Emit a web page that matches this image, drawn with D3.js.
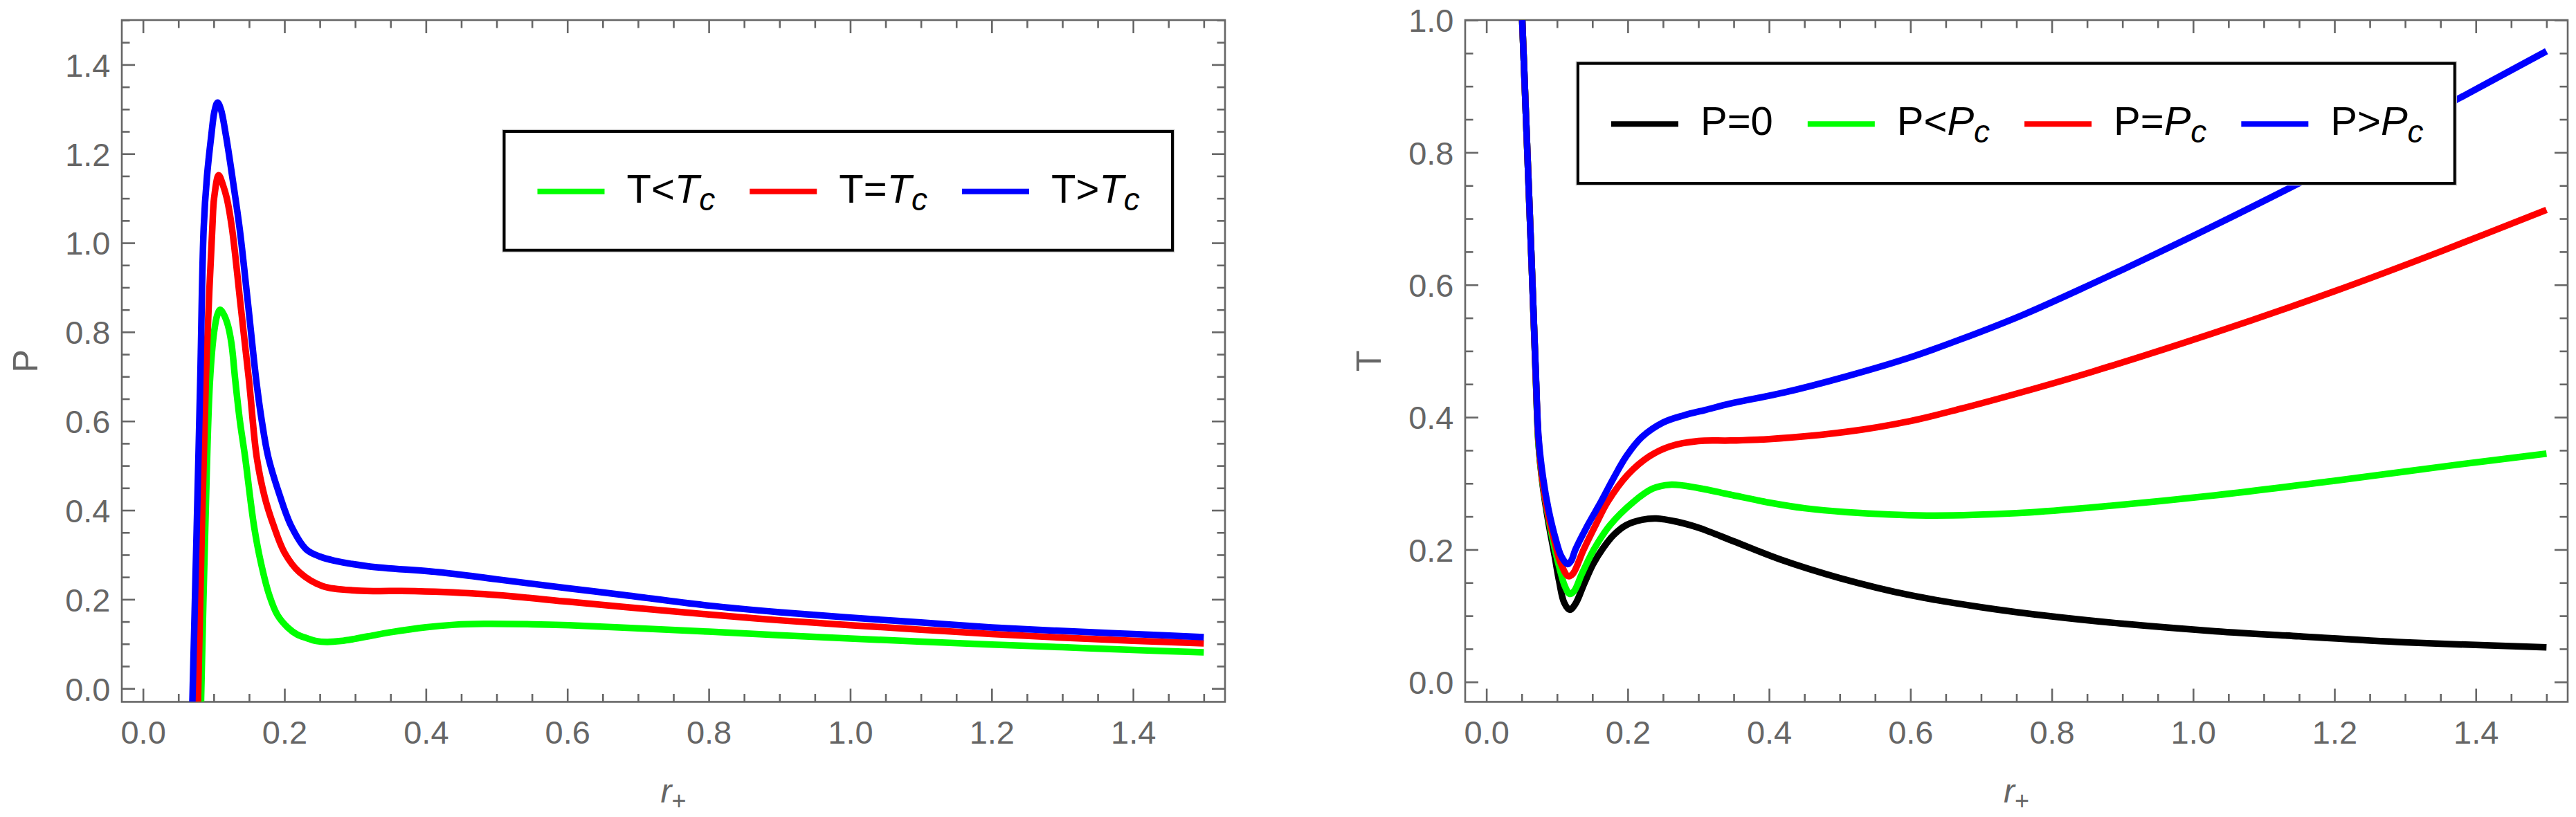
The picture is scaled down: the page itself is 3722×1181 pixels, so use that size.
<!DOCTYPE html>
<html>
<head>
<meta charset="utf-8">
<script src="https://cdn.jsdelivr.net/npm/d3@7"></script>
<style>
  body { margin: 0; background: #fff; }
  svg { display: block; }
</style>
</head>
<body>
<svg id="chart" width="3722" height="1181"></svg>
<script>
// ---- tick values ----
var xTicks = [0, 0.2, 0.4, 0.6, 0.8, 1.0, 1.2, 1.4];
var pTicks = [0, 0.2, 0.4, 0.6, 0.8, 1.0, 1.2, 1.4];
var tTicks = [0, 0.2, 0.4, 0.6, 0.8, 1.0];

// ---- left panel: P vs r+ ----
var rPLow  = [0.082, 0.088, 0.0946, 0.1005, 0.105, 0.109, 0.114, 0.120, 0.125, 0.1306, 0.137, 0.1443, 0.157, 0.167, 0.1786, 0.190, 0.2048, 0.218, 0.2309, 0.245, 0.260, 0.280, 0.300, 0.330, 0.352, 0.400, 0.440, 0.4825, 0.550, 0.602, 0.679, 0.80, 0.90, 1.00, 1.10, 1.20, 1.30, 1.40, 1.50];
var pLow   = [-0.03, 0.36, 0.689, 0.800, 0.838, 0.850, 0.840, 0.815, 0.775, 0.689, 0.600, 0.520, 0.364, 0.280, 0.209, 0.165, 0.1365, 0.121, 0.1132, 0.1065, 0.1044, 0.1065, 0.1115, 0.1205, 0.1267, 0.1373, 0.1429, 0.1450, 0.1440, 0.1418, 0.1365, 0.1275, 0.1195, 0.1120, 0.1050, 0.0985, 0.0925, 0.0865, 0.0810];

var rPCrit = [0.0777, 0.0888, 0.098, 0.1005, 0.107, 0.113, 0.1185, 0.1257, 0.138, 0.150, 0.1607, 0.172, 0.185, 0.200, 0.221, 0.2538, 0.3028, 0.3845, 0.4825, 0.602, 0.679, 0.80, 0.90, 1.00, 1.10, 1.20, 1.30, 1.40, 1.50];
var pCrit  = [-0.03, 0.689, 1.034, 1.100, 1.152, 1.130, 1.100, 1.034, 0.860, 0.689, 0.520, 0.430, 0.364, 0.305, 0.261, 0.2297, 0.2197, 0.2184, 0.2117, 0.1946, 0.183, 0.166, 0.153, 0.142, 0.132, 0.122, 0.114, 0.107, 0.1013];

var rPHigh = [0.0698, 0.075, 0.0809, 0.0858, 0.0905, 0.0966, 0.101, 0.1054, 0.110, 0.1172, 0.127, 0.1368, 0.148, 0.1603, 0.168, 0.177, 0.193, 0.2097, 0.2309, 0.250, 0.270, 0.319, 0.417, 0.500, 0.602, 0.679, 0.80, 0.90, 1.00, 1.10, 1.20, 1.30, 1.40, 1.50];
var pHigh  = [-0.03, 0.30, 0.689, 1.034, 1.150, 1.2415, 1.295, 1.315, 1.300, 1.2415, 1.140, 1.030, 0.870, 0.689, 0.600, 0.520, 0.435, 0.364, 0.312, 0.296, 0.287, 0.274, 0.261, 0.245, 0.2247, 0.210, 0.186, 0.171, 0.159, 0.148, 0.137, 0.129, 0.122, 0.1153];

// ---- right panel: T vs r+ ----
var rTZero = [0.0507, 0.058, 0.0645, 0.070, 0.0738, 0.080, 0.088, 0.0967, 0.103, 0.110, 0.118, 0.126, 0.139, 0.151, 0.165, 0.180, 0.198, 0.220, 0.2405, 0.270, 0.300, 0.350, 0.416, 0.50, 0.60, 0.70, 0.80, 0.90, 1.031, 1.15, 1.30, 1.50];
var tZero  = [1.0, 0.80, 0.62, 0.46, 0.36, 0.295, 0.240, 0.190, 0.152, 0.120, 0.109, 0.118, 0.150, 0.178, 0.202, 0.222, 0.237, 0.245, 0.247, 0.242, 0.233, 0.2125, 0.185, 0.157, 0.131, 0.113, 0.099, 0.088, 0.0767, 0.069, 0.060, 0.0523];

var rTLow  = [0.0507, 0.058, 0.0645, 0.070, 0.0738, 0.080, 0.088, 0.097, 0.104, 0.111, 0.118, 0.124, 0.135, 0.152, 0.175, 0.208, 0.235, 0.260, 0.300, 0.345, 0.400, 0.450, 0.5085, 0.623, 0.75, 0.857, 1.031, 1.20, 1.35, 1.50];
var tLow   = [1.0, 0.80, 0.62, 0.46, 0.36, 0.298, 0.247, 0.200, 0.170, 0.145, 0.133, 0.137, 0.163, 0.200, 0.237, 0.272, 0.292, 0.298, 0.293, 0.283, 0.271, 0.2625, 0.2567, 0.2515, 0.255, 0.2637, 0.282, 0.304, 0.325, 0.345];

var rTCrit = [0.0507, 0.058, 0.0645, 0.070, 0.0738, 0.080, 0.088, 0.097, 0.105, 0.1157, 0.122, 0.1376, 0.155, 0.1716, 0.200, 0.2307, 0.260, 0.300, 0.345, 0.400, 0.5085, 0.600, 0.672, 0.760, 0.857, 1.031, 1.20, 1.35, 1.50];
var tCrit  = [1.0, 0.80, 0.62, 0.46, 0.365, 0.300, 0.250, 0.210, 0.180, 0.160, 0.163, 0.200, 0.238, 0.272, 0.313, 0.341, 0.356, 0.364, 0.3647, 0.3669, 0.3778, 0.3943, 0.4130, 0.4385, 0.4686, 0.5278, 0.5903, 0.6503, 0.7133];

var rTHigh = [0.0507, 0.058, 0.0645, 0.070, 0.0738, 0.080, 0.088, 0.097, 0.106, 0.115, 0.120, 0.126, 0.144, 0.162, 0.180, 0.198, 0.220, 0.250, 0.280, 0.310, 0.345, 0.420, 0.5085, 0.600, 0.672, 0.760, 0.857, 0.940, 1.031, 1.20, 1.368, 1.50];
var tHigh  = [1.0, 0.80, 0.62, 0.465, 0.370, 0.310, 0.260, 0.220, 0.190, 0.178, 0.183, 0.200, 0.238, 0.272, 0.308, 0.341, 0.370, 0.392, 0.403, 0.411, 0.4205, 0.437, 0.4614, 0.4905, 0.518, 0.555, 0.6015, 0.643, 0.690, 0.781, 0.877, 0.953];

var green = "#00ff00", red = "#ff0000", blue = "#0000ff", black = "#000000";
var grey = "#666666";
var font = "'Liberation Sans', Arial, Helvetica, sans-serif";

var svg = d3.select("#chart");
var fmt = d3.format(".1f");

function zip(xs, ys) {
    return xs.map(function(v, i) { return [v, ys[i]]; });
}

function minorTicks(lo, hi, majors) {
    return d3.range(Math.round(lo * 20), Math.round(hi * 20) + 1)
        .map(function(k) { return k / 20; })
        .filter(function(v) {
            return !majors.some(function(m) { return Math.abs(m - v) < 1e-9; });
        });
}

function styleAxis(g, labels) {
    g.select(".domain").remove();
    g.attr("color", grey);
    g.selectAll(".tick line").attr("stroke-width", 2.6);
    if (labels) {
        g.attr("font-size", 47).attr("font-family", font);
        g.selectAll(".tick text").attr("fill", grey);
    }
}

function drawPanel(p) {
    var x = d3.scaleLinear().domain([-0.03, 1.53]).range([p.x0, p.x1]);
    var y = d3.scaleLinear().domain(p.yDomain).range([p.y1, p.y0]);

    var xMinor = minorTicks(0, 1.5, xTicks);
    var yMinor = minorTicks(0, p.yDomain[1], p.yTicks);

    var clipId = "clip-" + p.id;
    svg.append("clipPath").attr("id", clipId)
        .append("rect")
        .attr("x", p.x0).attr("y", p.y0)
        .attr("width", p.x1 - p.x0).attr("height", p.y1 - p.y0);

    // bottom axis with labels
    svg.append("g")
        .attr("transform", "translate(0," + p.y1 + ")")
        .call(d3.axisBottom(x).tickValues(xTicks).tickFormat(fmt)
            .tickSizeInner(-19).tickSizeOuter(0).tickPadding(27))
        .call(styleAxis, true);
    svg.append("g")
        .attr("transform", "translate(0," + p.y1 + ")")
        .call(d3.axisBottom(x).tickValues(xMinor).tickFormat("")
            .tickSizeInner(-11.5).tickSizeOuter(0))
        .call(styleAxis, false);

    // top axis, ticks only
    svg.append("g")
        .attr("transform", "translate(0," + p.y0 + ")")
        .call(d3.axisTop(x).tickValues(xTicks).tickFormat("")
            .tickSizeInner(-19).tickSizeOuter(0))
        .call(styleAxis, false);
    svg.append("g")
        .attr("transform", "translate(0," + p.y0 + ")")
        .call(d3.axisTop(x).tickValues(xMinor).tickFormat("")
            .tickSizeInner(-11.5).tickSizeOuter(0))
        .call(styleAxis, false);

    // left axis with labels
    var gl = svg.append("g")
        .attr("transform", "translate(" + p.x0 + ",0)")
        .call(d3.axisLeft(y).tickValues(p.yTicks).tickFormat(fmt)
            .tickSizeInner(-19).tickSizeOuter(0).tickPadding(16.5))
        .call(styleAxis, true);
    gl.selectAll(".tick text").attr("dy", "0.36em");
    svg.append("g")
        .attr("transform", "translate(" + p.x0 + ",0)")
        .call(d3.axisLeft(y).tickValues(yMinor).tickFormat("")
            .tickSizeInner(-11.5).tickSizeOuter(0))
        .call(styleAxis, false);

    // right axis, ticks only
    svg.append("g")
        .attr("transform", "translate(" + p.x1 + ",0)")
        .call(d3.axisRight(y).tickValues(p.yTicks).tickFormat("")
            .tickSizeInner(-19).tickSizeOuter(0))
        .call(styleAxis, false);
    svg.append("g")
        .attr("transform", "translate(" + p.x1 + ",0)")
        .call(d3.axisRight(y).tickValues(yMinor).tickFormat("")
            .tickSizeInner(-11.5).tickSizeOuter(0))
        .call(styleAxis, false);

    // frame
    svg.append("rect")
        .attr("x", p.x0).attr("y", p.y0)
        .attr("width", p.x1 - p.x0).attr("height", p.y1 - p.y0)
        .attr("fill", "none").attr("stroke", grey).attr("stroke-width", 2.6);

    // curves
    var line = d3.line()
        .x(function(d) { return x(d[0]); })
        .y(function(d) { return y(d[1]); })
        .curve(d3.curveCatmullRom.alpha(0.5));

    svg.append("g").attr("clip-path", "url(#" + clipId + ")")
        .selectAll("path")
        .data(p.series)
        .enter().append("path")
        .attr("d", function(s) { return line(s.points); })
        .attr("fill", "none")
        .attr("stroke", function(s) { return s.color; })
        .attr("stroke-width", 9.5)
        .attr("stroke-linejoin", "round");

    // axis titles
    var xt = svg.append("text")
        .attr("x", (p.x0 + p.x1) / 2).attr("y", 1160)
        .attr("text-anchor", "middle")
        .attr("font-family", font).attr("font-size", 48)
        .attr("fill", grey);
    xt.append("tspan").attr("font-style", "italic").text("r");
    xt.append("tspan").attr("font-size", 36).attr("dy", 10).text("+");

    svg.append("text")
        .attr("transform", "translate(" + p.yLabelX + "," + (p.y0 + p.y1) / 2 + ") rotate(-90)")
        .attr("text-anchor", "middle")
        .attr("font-family", font).attr("font-size", 50)
        .attr("fill", grey)
        .text(p.yLabel);

    drawLegend(p.legend);
}

function drawLegend(lg) {
    var g = svg.append("g");
    g.append("rect")
        .attr("x", lg.x - 2.5).attr("y", lg.y - 2.5)
        .attr("width", lg.w + 5).attr("height", lg.h + 5)
        .attr("fill", "none").attr("stroke", "#c8c8c8").attr("stroke-width", 1.5);
    g.append("rect")
        .attr("x", lg.x).attr("y", lg.y)
        .attr("width", lg.w).attr("height", lg.h)
        .attr("fill", "#fff").attr("stroke", "#000").attr("stroke-width", 4);

    var cy = lg.y + lg.h / 2 + 1;
    var cx = lg.x + 48;
    lg.entries.forEach(function(e) {
        g.append("line")
            .attr("x1", cx).attr("x2", cx + 97)
            .attr("y1", cy).attr("y2", cy)
            .attr("stroke", e.color).attr("stroke-width", 8);
        cx += 97 + 32;
        var t = g.append("text")
            .attr("x", cx).attr("y", cy + 16)
            .attr("font-family", font).attr("font-size", 58)
            .attr("fill", "#000");
        t.append("tspan").text(e.head);
        if (e.sym) {
            t.append("tspan").attr("font-style", "italic").text(e.sym);
            t.append("tspan").attr("font-style", "italic")
                .attr("font-size", 46).attr("dy", 11).text("c");
        }
        cx += t.node().getComputedTextLength() + 50;
    });
}

drawPanel({
    id: "p",
    x0: 176, x1: 1770, y0: 29, y1: 1014.5,
    yDomain: [-0.03, 1.5],
    yTicks: pTicks,
    yLabel: "P",
    yLabelX: 54,
    series: [
        { color: green, points: zip(rPLow, pLow) },
        { color: red,   points: zip(rPCrit, pCrit) },
        { color: blue,  points: zip(rPHigh, pHigh) }
    ],
    legend: {
        x: 728.5, y: 190, w: 965.5, h: 171.7,
        entries: [
            { color: green, head: "T<", sym: "T" },
            { color: red,   head: "T=", sym: "T" },
            { color: blue,  head: "T>", sym: "T" }
        ]
    }
});

drawPanel({
    id: "t",
    x0: 2117, x1: 3710, y0: 29, y1: 1014.5,
    yDomain: [-0.03, 1.0],
    yTicks: tTicks,
    yLabel: "T",
    yLabelX: 1995,
    series: [
        { color: black, points: zip(rTZero, tZero) },
        { color: green, points: zip(rTLow, tLow) },
        { color: red,   points: zip(rTCrit, tCrit) },
        { color: blue,  points: zip(rTHigh, tHigh) }
    ],
    legend: {
        x: 2280, y: 91.7, w: 1266.7, h: 173.3,
        entries: [
            { color: black, head: "P=0", sym: "" },
            { color: green, head: "P<", sym: "P" },
            { color: red,   head: "P=", sym: "P" },
            { color: blue,  head: "P>", sym: "P" }
        ]
    }
});
</script>
</body>
</html>
